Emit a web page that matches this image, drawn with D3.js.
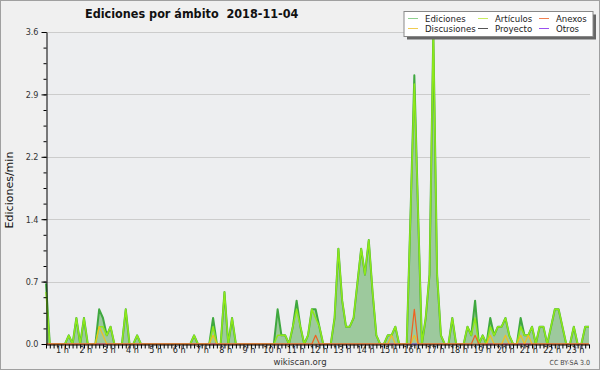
<!DOCTYPE html>
<html>
<head>
<meta charset="utf-8">
<script src="https://cdn.jsdelivr.net/npm/d3@7"></script>
<style>
  body { margin: 0; background: #f0f0f0; }
  svg { display: block; font-family: 'DejaVu Sans Condensed', 'DejaVu Sans', sans-serif; }
</style>
</head>
<body>
<div id="chart"></div>
<script>
// values are edits per minute, one per 10 minutes (6 per hour row)
const ediciones = [
  [0.7, 0, 0, 0, 0, 0],
  [0.1, 0, 0.3, 0, 0.3, 0],
  [0, 0, 0.4, 0.3, 0.1, 0.2],
  [0, 0, 0, 0.4, 0, 0],
  [0.1, 0, 0, 0, 0, 0],
  [0, 0, 0, 0, 0, 0],
  [0, 0, 0, 0.1, 0, 0],
  [0, 0, 0.3, 0, 0, 0.6],
  [0, 0.3, 0, 0, 0, 0],
  [0, 0, 0, 0, 0, 0],
  [0, 0.4, 0.1, 0.1, 0, 0.2],
  [0.5, 0.2, 0, 0.1, 0.4, 0.4],
  [0.2, 0, 0, 0, 0.3, 1.1],
  [0.5, 0.2, 0.2, 0.3, 0.7, 1.1],
  [0.8, 1.2, 0.6, 0.1, 0, 0],
  [0.1, 0.1, 0.2, 0, 0, 0],
  [1.5, 3.1, 1.5, 0, 0.3, 0.8],
  [3.6, 0.8, 0.1, 0, 0, 0.3],
  [0, 0, 0, 0.2, 0.1, 0.5],
  [0, 0.1, 0, 0.3, 0.1, 0.2],
  [0.2, 0.3, 0.1, 0, 0, 0.3],
  [0.1, 0.1, 0.2, 0, 0.2, 0.2],
  [0, 0.2, 0.4, 0.4, 0.2, 0],
  [0, 0.2, 0, 0, 0.2, 0.2]
].flat()

const articulos = [
  [0.6, 0, 0, 0, 0, 0],
  [0.1, 0, 0.3, 0, 0.3, 0],
  [0, 0, 0.2, 0.2, 0.1, 0.2],
  [0, 0, 0, 0.4, 0, 0],
  [0.1, 0, 0, 0, 0, 0],
  [0, 0, 0, 0, 0, 0],
  [0, 0, 0, 0.1, 0, 0],
  [0, 0, 0.2, 0, 0, 0.6],
  [0, 0.3, 0, 0, 0, 0],
  [0, 0, 0, 0, 0, 0],
  [0, 0.1, 0.1, 0.1, 0, 0.2],
  [0.4, 0.2, 0, 0.1, 0.4, 0.3],
  [0.2, 0, 0, 0, 0.3, 1.1],
  [0.5, 0.2, 0.2, 0.3, 0.7, 1.1],
  [0.8, 1.2, 0.6, 0.1, 0, 0],
  [0.1, 0.1, 0.2, 0, 0, 0],
  [1.5, 3.0, 1.5, 0, 0.3, 0.8],
  [3.6, 0.8, 0.1, 0, 0, 0.3],
  [0, 0, 0, 0.2, 0.1, 0.3],
  [0, 0.1, 0, 0.2, 0.1, 0.2],
  [0.2, 0.3, 0.1, 0, 0, 0.2],
  [0.1, 0.1, 0.2, 0, 0.2, 0.2],
  [0, 0.2, 0.4, 0.4, 0.2, 0],
  [0, 0.2, 0, 0, 0.2, 0.2]
].flat()

const discusiones = [
  [0, 0, 0, 0, 0, 0],
  [0, 0, 0, 0, 0, 0],
  [0, 0, 0.2, 0.1, 0, 0],
  [0, 0, 0, 0, 0, 0],
  [0, 0, 0, 0, 0, 0],
  [0, 0, 0, 0, 0, 0],
  [0, 0, 0, 0, 0, 0],
  [0, 0, 0.1, 0, 0, 0],
  [0, 0, 0, 0, 0, 0],
  [0, 0, 0, 0, 0, 0],
  [0, 0, 0, 0, 0, 0],
  [0, 0, 0, 0, 0, 0],
  [0, 0, 0, 0, 0, 0],
  [0, 0, 0, 0, 0, 0],
  [0, 0, 0, 0, 0, 0],
  [0, 0.1, 0, 0, 0, 0],
  [0, 0.1, 0, 0, 0, 0],
  [0, 0, 0, 0, 0, 0],
  [0, 0, 0, 0, 0, 0],
  [0, 0, 0, 0.1, 0, 0],
  [0, 0.1, 0, 0, 0, 0.1],
  [0, 0.1, 0, 0, 0, 0],
  [0, 0, 0, 0, 0, 0],
  [0, 0, 0, 0, 0, 0]
].flat()

const anexos = [
  [0, 0, 0, 0, 0, 0],
  [0, 0, 0, 0, 0, 0],
  [0, 0, 0, 0, 0, 0],
  [0, 0, 0, 0, 0, 0],
  [0, 0, 0, 0, 0, 0],
  [0, 0, 0, 0, 0, 0],
  [0, 0, 0, 0, 0, 0],
  [0, 0, 0, 0, 0, 0],
  [0, 0, 0, 0, 0, 0],
  [0, 0, 0, 0, 0, 0],
  [0, 0, 0, 0, 0, 0],
  [0, 0, 0, 0, 0, 0.1],
  [0, 0, 0, 0, 0, 0],
  [0, 0, 0, 0, 0, 0],
  [0, 0, 0, 0, 0, 0],
  [0, 0, 0, 0, 0, 0],
  [0, 0.4, 0, 0, 0, 0],
  [0, 0, 0, 0, 0, 0],
  [0, 0, 0, 0, 0, 0.1],
  [0, 0, 0, 0, 0, 0],
  [0, 0, 0, 0, 0, 0],
  [0, 0, 0, 0, 0, 0],
  [0, 0, 0, 0, 0, 0],
  [0, 0, 0, 0, 0, 0]
].flat()

const proyecto = [
  0, 0, 0, 0, 0, 0, 0, 0, 0, 0, 0, 0, 0, 0, 0, 0, 0, 0, 0, 0, 0, 0, 0, 0,
  0, 0, 0, 0, 0, 0, 0, 0, 0, 0, 0, 0, 0, 0, 0, 0, 0, 0, 0, 0, 0, 0, 0, 0,
  0, 0, 0, 0, 0, 0, 0, 0, 0, 0, 0, 0, 0, 0, 0, 0, 0, 0, 0, 0, 0, 0, 0, 0,
  0, 0, 0, 0, 0, 0, 0, 0, 0, 0, 0, 0, 0, 0, 0, 0, 0, 0, 0, 0, 0, 0, 0, 0,
  0, 0, 0, 0, 0, 0, 0, 0, 0, 0, 0, 0, 0, 0, 0, 0, 0, 0, 0, 0, 0, 0, 0, 0,
  0, 0, 0, 0, 0, 0, 0, 0, 0, 0, 0, 0, 0, 0, 0, 0, 0, 0, 0, 0, 0, 0, 0, 0
]
const otros = [
  0, 0, 0, 0, 0, 0, 0, 0, 0, 0, 0, 0, 0, 0, 0, 0, 0, 0, 0, 0, 0, 0, 0, 0,
  0, 0, 0, 0, 0, 0, 0, 0, 0, 0, 0, 0, 0, 0, 0, 0, 0, 0, 0, 0, 0, 0, 0, 0,
  0, 0, 0, 0, 0, 0, 0, 0, 0, 0, 0, 0, 0, 0, 0, 0, 0, 0, 0, 0, 0, 0, 0, 0,
  0, 0, 0, 0, 0, 0, 0, 0, 0, 0, 0, 0, 0, 0, 0, 0, 0, 0, 0, 0, 0, 0, 0, 0,
  0, 0, 0, 0, 0, 0, 0, 0, 0, 0, 0, 0, 0, 0, 0, 0, 0, 0, 0, 0, 0, 0, 0, 0,
  0, 0, 0, 0, 0, 0, 0, 0, 0, 0, 0, 0, 0, 0, 0, 0, 0, 0, 0, 0, 0, 0, 0, 0
]

const hourLabels = ['1 h', '2 h', '3 h', '4 h', '5 h', '6 h', '7 h', '8 h', '9 h', '10 h', '11 h', '12 h',
  '13 h', '14 h', '15 h', '16 h', '17 h', '18 h', '19 h', '20 h', '21 h', '22 h', '23 h']
const yTicks = [0, 0.72, 1.44, 2.16, 2.88, 3.6]
const legendNames = ['Ediciones', 'Discusiones', 'Artículos', 'Proyecto', 'Anexos', 'Otros']
const legendColors = ['#8fd08f', '#f0cc50', '#c8ec60', '#555555', '#f08050', '#9a50f0']

const width = 600
const height = 370
const plotLeft = 46, plotRight = 590, plotTop = 32, plotBottom = 344

const svg = d3.select('#chart').append('svg')
    .attr('width', width)
    .attr('height', height)

svg.append('rect')
    .attr('x', 0.5).attr('y', 0.5)
    .attr('width', width - 1).attr('height', height - 1)
    .attr('fill', '#f0f0f0')
    .attr('stroke', '#a0a0a0')

svg.append('rect')
    .attr('x', plotLeft).attr('y', plotTop)
    .attr('width', plotRight - plotLeft).attr('height', plotBottom - plotTop)
    .attr('fill', '#edeef0')

// Scales
const xScale = d3.scaleLinear().domain([0, ediciones.length - 1]).range([plotLeft, plotRight - 1])
const yScale = d3.scaleLinear().domain([0, 3.6]).range([plotBottom, plotTop])
const labelScale = d3.scaleLinear().domain([1, 23]).range([62.5, 575.5])

// Grid
svg.append('g').selectAll('line')
    .data(yTicks.slice(1))
    .enter().append('line')
    .attr('x1', plotLeft).attr('x2', plotRight)
    .attr('y1', d => Math.round(yScale(d)) + 0.5)
    .attr('y2', d => Math.round(yScale(d)) + 0.5)
    .attr('stroke', '#cccccc')

// Series
const line = data => d3.line()
    .x((d, i) => xScale(i))
    .y(d => yScale(d))(data)

const area = d3.area()
    .x((d, i) => xScale(i))
    .y0(plotBottom)
    .y1(d => yScale(d))

svg.append('path')
    .attr('d', area(ediciones))
    .attr('fill', '#9dc99d')

const series = [
    [ediciones, '#3fa83f', 2],
    [articulos, '#8ee81a', 1.5],
    [proyecto, '#555555', 1],
    [otros, '#9a50f0', 1],
    [discusiones, '#f0c020', 1.2],
    [anexos, '#f06020', 1.2]
]
series.forEach(([data, color, w]) => {
    svg.append('path')
        .attr('d', line(data))
        .attr('fill', 'none')
        .attr('stroke', color)
        .attr('stroke-width', w)
        .attr('stroke-linejoin', 'round')
})

// Axes
const yAxis = d3.axisLeft(yScale)
    .tickValues(yTicks)
    .tickFormat(d3.format('.1f'))
    .tickSize(5)
    .tickSizeOuter(0)
const yAxisG = svg.append('g')
    .attr('transform', 'translate(' + (plotLeft + 0.5) + ',0)')
    .call(yAxis)
yAxisG.selectAll('text').attr('font-size', 9).attr('fill', '#333')
    .attr('font-family', 'DejaVu Sans Condensed, DejaVu Sans')
yAxisG.select('.domain').attr('stroke', '#000')

const yMinor = d3.axisLeft(yScale)
    .tickValues(d3.range(0, 21).map(k => k * 0.18))
    .tickFormat('')
    .tickSize(3)
    .tickSizeOuter(0)
svg.append('g')
    .attr('transform', 'translate(' + (plotLeft + 0.5) + ',0)')
    .call(yMinor)
    .select('.domain').remove()

const xAxis = d3.axisBottom(xScale)
    .tickValues(d3.range(0, ediciones.length))
    .tickFormat('')
    .tickSize(4)
    .tickSizeOuter(0)
svg.append('g')
    .attr('transform', 'translate(0,' + (plotBottom + 0.5) + ')')
    .call(xAxis)

svg.append('g').selectAll('text')
    .data(hourLabels)
    .enter().append('text')
    .attr('x', (d, i) => labelScale(i + 1))
    .attr('y', 353)
    .attr('text-anchor', 'middle')
    .attr('font-size', 9)
    .attr('fill', '#222')
    .text(d => d)

// Title and labels
svg.append('text')
    .attr('x', 85).attr('y', 18)
    .attr('font-size', 12.5)
    .attr('font-weight', 'bold')
    .attr('fill', '#111')
    .style('white-space', 'pre')
    .text('Ediciones por ámbito  2018-11-04')

svg.append('text')
    .attr('transform', 'translate(13,190) rotate(-90)')
    .attr('text-anchor', 'middle')
    .attr('font-size', 11)
    .attr('font-family', 'DejaVu Sans')
    .attr('fill', '#111')
    .text('Ediciones/min')

svg.append('text')
    .attr('x', 300).attr('y', 365)
    .attr('text-anchor', 'middle')
    .attr('font-size', 9.5)
    .attr('fill', '#333')
    .text('wikiscan.org')

svg.append('text')
    .attr('x', 590).attr('y', 365)
    .attr('text-anchor', 'end')
    .attr('font-size', 7)
    .attr('fill', '#444')
    .text('CC BY-SA 3.0')

// Legend
const legend = svg.append('g').attr('transform', 'translate(404,11.5)')
legend.append('rect')
    .attr('x', 3).attr('y', 3)
    .attr('width', 189).attr('height', 25)
    .attr('fill', '#666')
legend.append('rect')
    .attr('width', 189).attr('height', 25)
    .attr('fill', '#ffffff')
    .attr('stroke', '#888')
const legendX = [4, 74, 135]
const legendItems = legend.selectAll('.legend-item')
    .data(legendNames)
    .enter().append('g')
    .attr('transform', (d, i) => 'translate(' + legendX[Math.floor(i / 2)] + ',' + (i % 2 === 0 ? 7 : 17) + ')')
legendItems.append('line')
    .attr('x1', 0).attr('x2', 10)
    .attr('stroke', (d, i) => legendColors[i])
legendItems.append('text')
    .attr('x', 17).attr('y', 3.5)
    .attr('font-size', 9.5)
    .attr('fill', '#222')
    .text(d => d)
</script>
</body>
</html>
